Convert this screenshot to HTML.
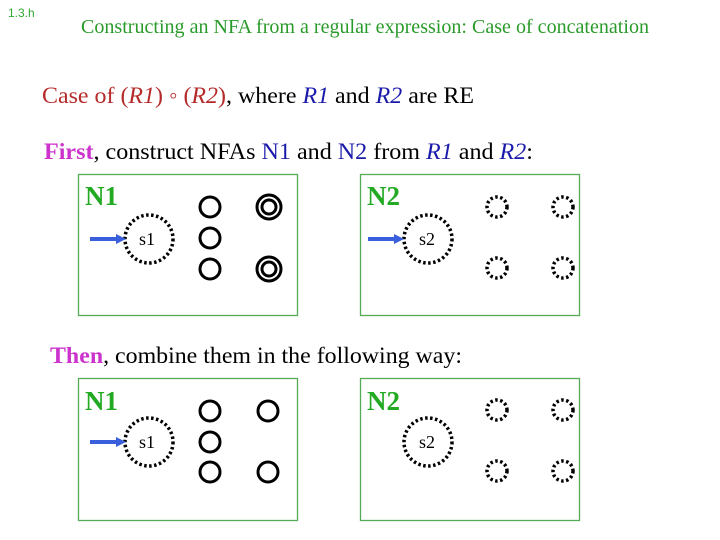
<!DOCTYPE html>
<html><head><style>body{margin:0;background:#fff}svg{display:block}</style></head><body>
<svg width="720" height="540" viewBox="0 0 720 540" xmlns="http://www.w3.org/2000/svg" font-family="Liberation Serif, serif">
<text x="8" y="17" font-family="Liberation Sans, sans-serif" font-size="12" fill="#33aa33">1.3.h</text>
<text x="81" y="33" font-size="19.5" fill="#2a9a2a" textLength="568" lengthAdjust="spacingAndGlyphs">Constructing an NFA from a regular expression: Case of concatenation</text>
<text x="42" y="103" font-size="23.5" fill="#000" textLength="432" lengthAdjust="spacingAndGlyphs"><tspan fill="#b52a2a">Case of (<tspan font-style="italic">R1</tspan>) ◦ (<tspan font-style="italic">R2</tspan>)</tspan>, where <tspan fill="#1a1aaa" font-style="italic">R1</tspan> and <tspan fill="#1a1aaa" font-style="italic">R2</tspan> are RE</text>
<text x="44" y="159" font-size="23.5" fill="#000" textLength="489" lengthAdjust="spacingAndGlyphs"><tspan fill="#cc33cc" font-weight="bold">First</tspan>, construct NFAs <tspan fill="#1a1aaa">N1</tspan> and <tspan fill="#1a1aaa">N2</tspan> from <tspan fill="#1a1aaa" font-style="italic">R1</tspan> and <tspan fill="#1a1aaa" font-style="italic">R2</tspan>:</text>
<text x="50" y="363" font-size="23.5" fill="#000" textLength="412" lengthAdjust="spacingAndGlyphs"><tspan fill="#cc33cc" font-weight="bold">Then</tspan>, combine them in the following way:</text>
<g fill="none" stroke="#55aa55" stroke-width="1.3">
<rect x="78.5" y="174.5" width="219" height="141"/>
<rect x="360.5" y="174.5" width="219" height="141"/>
<rect x="78.5" y="378.5" width="219" height="142"/>
<rect x="360.5" y="378.5" width="219" height="142"/>
</g>
<g font-size="27" font-weight="bold" fill="#22aa22">
<text x="85" y="205">N1</text><text x="367" y="205">N2</text>
<text x="85" y="410">N1</text><text x="367" y="410">N2</text>
</g>
<g fill="none" stroke="#000">
<g stroke-width="3.5" stroke-dasharray="2.5 2.5">
<circle cx="149" cy="239" r="24"/><circle cx="428" cy="239" r="24"/>
<circle cx="149" cy="442" r="24"/><circle cx="428" cy="442" r="24"/>
<circle cx="497" cy="207" r="10"/><circle cx="563" cy="207" r="10"/>
<circle cx="497" cy="268" r="10"/><circle cx="563" cy="268" r="10"/>
<circle cx="497" cy="410" r="10"/><circle cx="563" cy="410" r="10"/>
<circle cx="497" cy="471" r="10"/><circle cx="563" cy="471" r="10"/>
</g>
<g stroke-width="3">
<circle cx="210" cy="207" r="10"/><circle cx="210" cy="238" r="10"/><circle cx="210" cy="269" r="10"/>
<circle cx="269" cy="207" r="12"/><circle cx="269" cy="207" r="7"/>
<circle cx="269" cy="269" r="12"/><circle cx="269" cy="269" r="7"/>
<circle cx="210" cy="411" r="10"/><circle cx="210" cy="442" r="10"/><circle cx="210" cy="472" r="10"/>
<circle cx="268" cy="411" r="10"/><circle cx="268" cy="472" r="10"/>
</g>
</g>
<g font-size="18" fill="#000">
<text x="139" y="245">s1</text><text x="419" y="245">s2</text>
<text x="139" y="448">s1</text><text x="419" y="448">s2</text>
</g>
<g fill="#3a5fdd" stroke="#3a5fdd">
<line x1="90" y1="239" x2="118" y2="239" stroke-width="4"/><polygon points="116,234 126,239 116,244" stroke="none"/>
<line x1="368" y1="239" x2="396" y2="239" stroke-width="4"/><polygon points="394,234 404,239 394,244" stroke="none"/>
<line x1="90" y1="442" x2="118" y2="442" stroke-width="4"/><polygon points="116,437 126,442 116,447" stroke="none"/>
</g>
</svg>
</body></html>
